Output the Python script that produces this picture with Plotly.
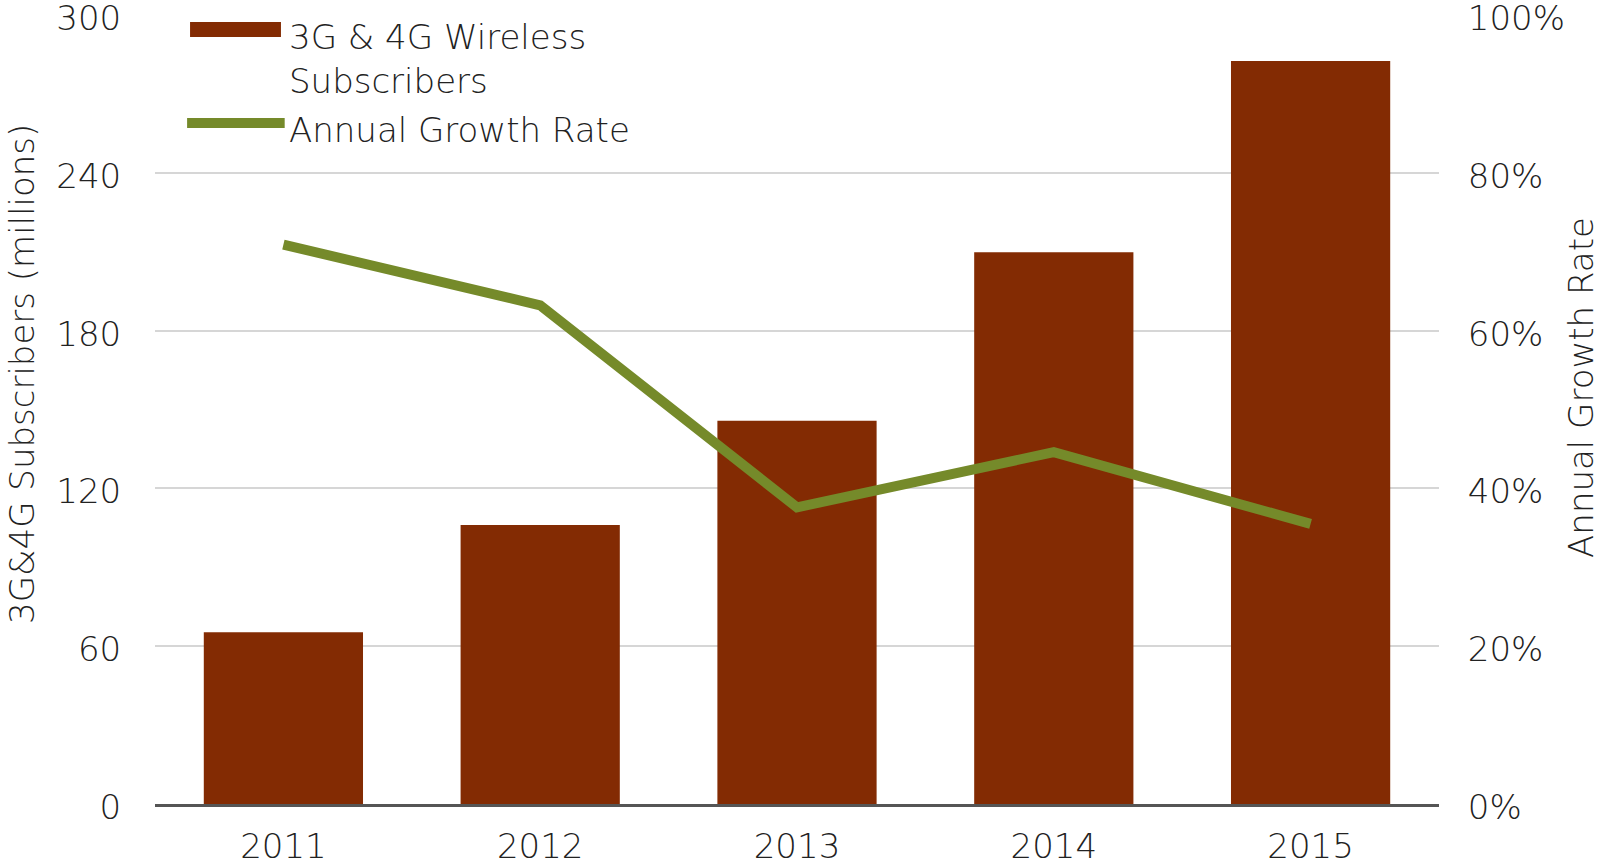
import plotly.graph_objects as go

years = ["2011", "2012", "2013", "2014", "2015"]
subscribers = [65.3, 106.1, 145.7, 209.8, 282.5]  # millions
growth_rate = [0.709, 0.632, 0.376, 0.446, 0.355]

left_ticks = [0, 60, 120, 180, 240, 300]
right_ticks = [0, 0.2, 0.4, 0.6, 0.8, 1.0]

BAR_COLOR = "#832b03"
LINE_COLOR = "#758a2a"
TEXT_COLOR = "#222222"
FONT = "DejaVu Sans"
FS = 34

fig = go.Figure()
fig.add_trace(go.Bar(x=years, y=subscribers, name="3G & 4G Wireless Subscribers",
                     marker_color=BAR_COLOR, marker_line_width=0))
fig.add_trace(go.Scatter(x=years, y=growth_rate, name="Annual Growth Rate",
                         mode="lines", yaxis="y2",
                         line=dict(color=LINE_COLOR, width=10)))

fig.update_layout(
    width=1602, height=867,
    margin=dict(l=155, r=163, t=15, b=63),
    plot_bgcolor="white", paper_bgcolor="white",
    showlegend=False,
    bargap=0.38,
    font=dict(family=FONT, size=FS, color=TEXT_COLOR, weight=200),
    xaxis=dict(showgrid=False, showline=True, linecolor="#555555", linewidth=2.5,
               ticks="outside", ticklen=10, tickcolor="rgba(0,0,0,0)",
               automargin=False, ticklabeloverflow="allow"),
    yaxis=dict(range=[0, 300], tickvals=left_ticks, showgrid=True,
               gridcolor="#d6d6d6", gridwidth=1.5, zeroline=False,
               ticks="outside", ticklen=26, tickcolor="rgba(0,0,0,0)",
               ticklabelshift=3,
               automargin=False, ticklabeloverflow="allow"),
    yaxis2=dict(range=[0, 1], tickvals=right_ticks, tickformat=".0%",
                overlaying="y", side="right", showgrid=False, zeroline=False,
                ticks="outside", ticklen=21, tickcolor="rgba(0,0,0,0)",
                ticklabelshift=3,
                automargin=False, ticklabeloverflow="allow"),
)

# legend drawn by hand, boxed in white over the gridlines
fig.add_shape(type="rect", xref="paper", yref="paper", x0=-0.002, x1=0.423,
              y0=0.778, y1=1.03, fillcolor="white", line_width=0, layer="between")
fig.add_shape(type="rect", xref="paper", yref="paper", x0=0.0273, x1=0.0981,
              y0=0.972, y1=0.991, fillcolor=BAR_COLOR, line_width=0)
fig.add_shape(type="line", xref="paper", yref="paper", x0=0.025, x1=0.101,
              y0=0.863, y1=0.863, line=dict(color=LINE_COLOR, width=10))
fig.add_annotation(xref="paper", yref="paper", x=0.103, y=0.944, xanchor="left",
                   yanchor="middle", align="left", showarrow=False,
                   text="3G & 4G Wireless<br>Subscribers")
fig.add_annotation(xref="paper", yref="paper", x=0.103, y=0.854, xanchor="left",
                   yanchor="middle", showarrow=False, text="Annual Growth Rate")

# axis titles
fig.add_annotation(xref="paper", yref="paper", x=-0.1036, y=0.545, textangle=-90,
                   xanchor="center", yanchor="middle", showarrow=False,
                   text="3G&4G Subscribers (millions)")
fig.add_annotation(xref="paper", yref="paper", x=1.1105, y=0.5285, textangle=-90,
                   xanchor="center", yanchor="middle", showarrow=False,
                   text="Annual Growth Rate")

# page body has a default 8px margin; drop it so the figure fills the window
fig.write_html("out.html", config={"displayModeBar": False},
               post_script="document.body.style.margin='0';")
